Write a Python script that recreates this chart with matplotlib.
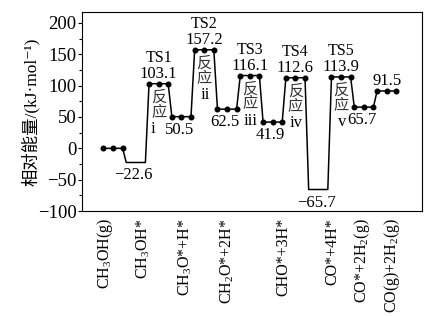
import matplotlib
matplotlib.use("Agg")
import matplotlib.pyplot as plt
from matplotlib.ticker import MultipleLocator

plt.rcParams['font.family'] = ['Liberation Serif', 'Noto Sans CJK SC', 'DejaVu Serif']
plt.rcParams['mathtext.fontset'] = 'custom'
plt.rcParams['mathtext.rm'] = 'Liberation Serif'
plt.rcParams['mathtext.it'] = 'Liberation Serif:italic'
plt.rcParams['mathtext.default'] = 'rm'

# relative energies of each step (kJ/mol), in path order
energies = [0, -22.6, 103.1, 50.5, 157.2, 62.5, 116.1, 41.9, 112.6, -65.7, 113.9, 65.7, 91.5]
value_labels = ['', '\u221222.6', '103.1', '50.5', '157.2', '62.5', '116.1',
                '41.9', '112.6', '\u221265.7', '113.9', '65.7', '91.5']
no_dots = [1, 9]
ts_index = [2, 4, 6, 8, 10]
ts_names = ['TS1', 'TS2', 'TS3', 'TS4', 'TS5']
rxn_names = ['i', 'ii', 'iii', 'iv', 'v']

# x axis species labels
species = ['CH$_3$OH(g)', 'CH$_3$OH*', 'CH$_3$O*+H*', 'CH$_2$O*+2H*',
           'CHO*+3H*', 'CO*+4H*', 'CO*+2H$_2$(g)', 'CO(g)+2H$_2$(g)']
species_pos = [-0.35, 1.32, 3.16, 5.0, 7.46, 9.6, 10.92, 12.24]

fig = plt.figure(figsize=(4.39, 3.16), dpi=100)
ax = fig.add_axes([82/439, 1-211/316, (422-82)/439, (211-12)/316])

hw = 0.42
xs, ys = [], []
for i, e in enumerate(energies):
    xs += [i - hw, i + hw]
    ys += [e, e]
ax.plot(xs, ys, color='k', lw=1.1)

dx, dy = [], []
for i, e in enumerate(energies):
    if i in no_dots:
        continue
    dx += [i - hw, i, i + hw]
    dy += [e, e, e]
ax.plot(dx, dy, 'o', color='k', ms=3.3)

# value labels: above for TS and final state, below otherwise
above = set(ts_index) | {len(energies) - 1}
for i, (e, s) in enumerate(zip(energies, value_labels)):
    if not s:
        continue
    if i in above:
        off = 10
    else:
        off = -13
    ax.annotate(s, (i, e), xytext=(-2 if i not in above else 0, off),
                textcoords='offset pixels', ha='center', va='center', fontsize=12)

for i, name, rx in zip(ts_index, ts_names, rxn_names):
    e = energies[i]
    ax.annotate(name, (i, e), xytext=(0, 26), textcoords='offset pixels',
                ha='center', va='center', fontsize=11.5)
    ax.annotate('反', (i, e), xytext=(0, -14), textcoords='offset pixels',
                ha='center', va='center', fontsize=11, color='#333333')
    ax.annotate('应', (i, e), xytext=(0, -29), textcoords='offset pixels',
                ha='center', va='center', fontsize=11, color='#333333')
    ax.annotate(rx, (i, e), xytext=(-6 if rx == 'i' else 1, -45),
                textcoords='offset pixels', ha='center', va='center', fontsize=12)

ax.set_xlim(-1.36, 13.55)
ax.set_ylim(-100, 217.5)
ax.yaxis.set_major_locator(MultipleLocator(50))
ax.yaxis.set_minor_locator(MultipleLocator(25))
ax.tick_params(axis='y', which='major', direction='out', length=3, width=0.8,
               labelsize=13.5, pad=1)
ax.tick_params(axis='y', which='minor', direction='out', length=2.5, width=0.8)
ax.set_xticks(species_pos)
ax.set_xticklabels(species, rotation=90, fontsize=11.5)
ax.tick_params(axis='x', length=0, pad=5)
for sp in ax.spines.values():
    sp.set_linewidth(0.8)

ax.set_ylabel('相对能量/(kJ·mol\u207b\u00b9)', fontsize=12.5)
ax.yaxis.set_label_coords(-0.124, 0.5)

fig.savefig('out.png', dpi=100)
